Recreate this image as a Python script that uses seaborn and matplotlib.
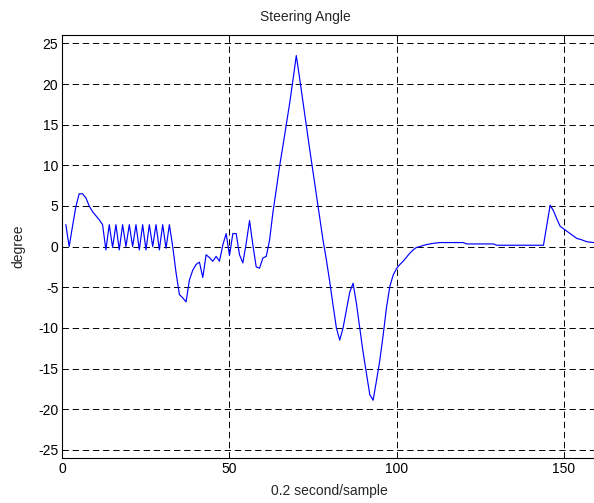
import numpy as np
import matplotlib
matplotlib.use("Agg")
import matplotlib.pyplot as plt
import seaborn as sns

# Steering angle log, one value every 0.2 s (samples numbered from 1)
angle_start = [2.7, 0.0, 2.5, 4.9, 6.5, 6.5, 6.0, 5.0, 4.3, 3.8, 3.3, 2.7,
               -0.4, 2.7, -0.1, 2.7, -0.4, 2.7, 0.0, 2.7, 0.0, 2.7, -0.4, 2.7,
               -0.4, 2.7, 0.0, 2.7, -0.4, 2.7, -0.2, 2.7]
angle_dip = [0.0, -3.2, -5.9, -6.3, -6.8, -4.1, -2.9, -2.2, -1.9, -3.8,
             -1.0, -1.35, -1.8, -1.2, -1.8, 0.2, 1.6, -1.1, 1.6, 1.6,
             -1.0, -2.0, 0.4, 3.2, 0.2, -2.5, -2.65, -1.4, -1.2, 0.8]
angle_swing = [4.2, 7.0, 9.9, 12.4, 15.0, 17.6, 20.5, 23.5, 20.7, 17.8,
               14.9, 12.0, 9.2, 6.4, 3.6, 0.8, -1.6, -4.3, -7.2, -10.0,
               -11.5, -10.0, -7.8, -5.6, -4.5, -7.0, -10.0, -13.0, -15.6, -18.2,
               -18.9, -16.5, -14.0, -10.9, -7.5, -4.9, -3.5, -2.7, -2.2, -1.8,
               -1.3, -0.8, -0.4, -0.1, 0.0]
angle_settle = [0.15, 0.25, 0.33, 0.4, 0.45,
                0.5, 0.5, 0.5, 0.5, 0.5, 0.5, 0.5, 0.5,
                0.33, 0.33, 0.33, 0.33, 0.33, 0.33, 0.33, 0.33, 0.33,
                0.17, 0.17, 0.17, 0.17, 0.17, 0.17, 0.17, 0.17, 0.17, 0.17,
                0.17, 0.17, 0.17, 0.17, 0.17,
                2.6, 5.1, 4.4, 3.4, 2.5, 2.2, 1.9, 1.6, 1.3, 1.0,
                0.9, 0.75, 0.6, 0.55, 0.5, 0.45]

angle = np.array(angle_start + angle_dip + angle_swing + angle_settle)
sample = np.arange(1, len(angle) + 1)

x_ticks = [0, 50, 100, 150]
y_ticks = [-25, -20, -15, -10, -5, 0, 5, 10, 15, 20, 25]

sns.set_theme(style="white")
plt.rcParams["font.family"] = ["Liberation Sans", "DejaVu Sans"]
plt.rcParams["lines.scale_dashes"] = False

fig = plt.figure(figsize=(5.94, 5.03), dpi=100)
ax = fig.add_axes([0.1052, 0.0895, 0.8997, 0.8404])

sns.lineplot(x=sample, y=angle, ax=ax, color="#0000ff", linewidth=0.85)

ax.set_xlim(0, 160)
ax.set_ylim(-26, 26)
ax.set_xticks(x_ticks)
ax.set_yticks(y_ticks)
ax.set_xticklabels([str(v) for v in x_ticks])
ax.set_yticklabels([str(v) for v in y_ticks])

ax.grid(True, color="black", linestyle=(0, (4.6, 2.7)), linewidth=0.7)
for side in ax.spines.values():
    side.set_color("black")
    side.set_linewidth(0.8)
ax.tick_params(direction="in", top=True, right=True, length=4, width=0.7,
               labelsize=10, colors="black", pad=3)

fig.text(305 / 594, 1 - 17 / 503, "Steering Angle", fontsize=10,
         ha="center", va="center")
ax.set_xlabel("0.2 second/sample", fontsize=10, labelpad=5.5)
ax.set_ylabel("degree", fontsize=10, labelpad=9.5)

fig.savefig("out.png", dpi=100)
